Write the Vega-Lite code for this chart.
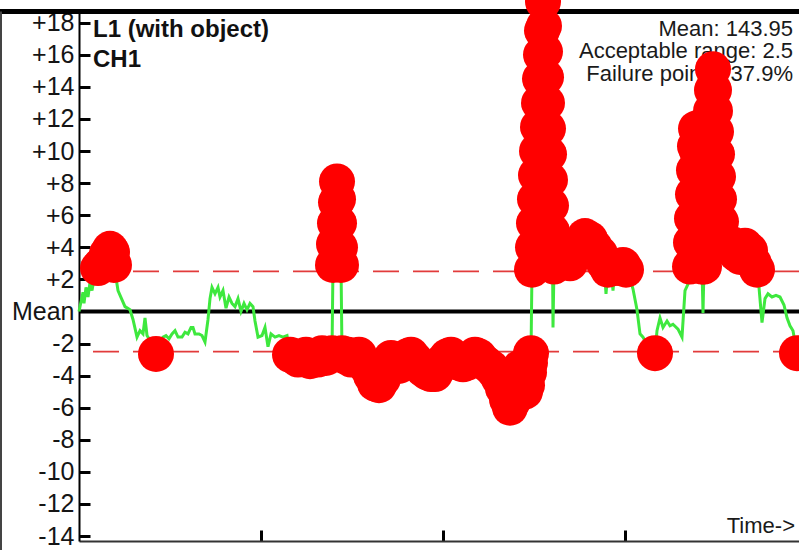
{
  "$schema": "https://vega.github.io/schema/vega-lite/v6.json",
  "width": 720,
  "height": 531,
  "autosize": {"type": "none"},
  "padding": {"left": 79, "top": 10, "right": 0, "bottom": 9},
  "background": "white",
  "config": {"view": {"stroke": null}, "font": "Liberation Sans"},
  "datasets": {
    "series": [
      {"t":0,"v":0.0},{"t":2,"v":0.6},{"t":4,"v":1.2},{"t":5,"v":0.5},{"t":7,"v":1.5},{"t":9,"v":0.9},{"t":11,"v":1.8},{"t":13,"v":1.3},{"t":15,"v":2.0},{"t":17,"v":2.3},
      {"t":19,"v":2.7},{"t":22,"v":2.9},{"t":25,"v":3.1},{"t":28,"v":3.6},{"t":31,"v":3.9},{"t":33,"v":3.7},{"t":35,"v":2.9},{"t":39,"v":1.3},{"t":46,"v":0.3},{"t":51,"v":0.1},
      {"t":54,"v":-0.5},{"t":58,"v":-1.6},{"t":61,"v":-1.2},{"t":64,"v":-1.4},{"t":66,"v":-0.4},{"t":68,"v":-1.5},{"t":71,"v":-1.8},{"t":74,"v":-2.2},{"t":77,"v":-2.65},{"t":81,"v":-1.9},
      {"t":84,"v":-1.6},{"t":87,"v":-1.5},{"t":90,"v":-1.7},{"t":93,"v":-1.4},{"t":96,"v":-1.2},{"t":99,"v":-1.6},{"t":103,"v":-1.6},{"t":106,"v":-1.3},{"t":109,"v":-1.4},{"t":112,"v":-1.0},
      {"t":114,"v":-1.0},{"t":116,"v":-1.4},{"t":120,"v":-1.4},{"t":123,"v":-1.5},{"t":126,"v":-1.9},{"t":129,"v":-0.5},{"t":131,"v":0.8},{"t":133,"v":1.5},{"t":136,"v":1.1},{"t":139,"v":1.5},
      {"t":141,"v":0.9},{"t":144,"v":1.3},{"t":147,"v":0.2},{"t":150,"v":0.9},{"t":153,"v":0.5},{"t":156,"v":0.3},{"t":159,"v":0.8},{"t":162,"v":0.0},{"t":165,"v":0.5},{"t":168,"v":0.1},
      {"t":171,"v":0.5},{"t":174,"v":0.3},{"t":176,"v":-0.6},{"t":179,"v":-1.6},{"t":183,"v":-1.5},{"t":186,"v":-1.0},{"t":189,"v":-2.2},{"t":192,"v":-1.4},{"t":196,"v":-1.6},{"t":200,"v":-1.5},
      {"t":204,"v":-1.6},{"t":208,"v":-1.5},{"t":211,"v":-2.7},{"t":215,"v":-2.8},{"t":219,"v":-3.0},{"t":223,"v":-2.9},{"t":227,"v":-2.7},{"t":231,"v":-3.1},{"t":235,"v":-2.8},{"t":239,"v":-3.0},
      {"t":243,"v":-2.6},{"t":247,"v":-2.9},{"t":251,"v":-2.7},{"t":253,"v":-2.6},{"t":254,"v":2.9},{"t":255,"v":4.2},{"t":256,"v":5.5},{"t":257,"v":6.8},{"t":258,"v":8.1},{"t":259,"v":7.0},
      {"t":260,"v":5.5},{"t":261,"v":4.0},{"t":262,"v":2.9},{"t":263,"v":-2.6},{"t":266,"v":-2.8},{"t":269,"v":-2.7},{"t":272,"v":-3.0},{"t":277,"v":-2.2},{"t":280,"v":-2.7},{"t":284,"v":-3.2},
      {"t":288,"v":-3.5},{"t":292,"v":-4.0},{"t":296,"v":-4.5},{"t":300,"v":-4.6},{"t":304,"v":-4.2},{"t":308,"v":-3.4},{"t":312,"v":-2.9},{"t":316,"v":-3.1},{"t":320,"v":-3.4},{"t":324,"v":-3.2},
      {"t":328,"v":-2.8},{"t":332,"v":-2.7},{"t":336,"v":-3.0},{"t":340,"v":-3.3},{"t":344,"v":-3.6},{"t":348,"v":-3.8},{"t":352,"v":-3.9},{"t":356,"v":-3.9},{"t":360,"v":-3.5},{"t":364,"v":-3.1},
      {"t":368,"v":-2.8},{"t":372,"v":-2.7},{"t":376,"v":-3.0},{"t":380,"v":-3.2},{"t":384,"v":-3.3},{"t":388,"v":-3.2},{"t":392,"v":-3.0},{"t":396,"v":-2.7},{"t":400,"v":-2.8},{"t":404,"v":-3.1},
      {"t":408,"v":-3.3},{"t":412,"v":-3.5},{"t":416,"v":-3.8},{"t":420,"v":-4.2},{"t":424,"v":-4.8},{"t":428,"v":-5.5},{"t":431,"v":-6.0},{"t":434,"v":-5.6},{"t":437,"v":-4.5},{"t":441,"v":-3.5},
      {"t":444,"v":-4.3},{"t":446,"v":-5.0},{"t":448,"v":-4.6},{"t":450,"v":-3.8},{"t":451,"v":-3.2},{"t":452,"v":-2.6},
      {"t":453,"v":2.6},{"t":454,"v":4.0},{"t":455,"v":5.5},{"t":456,"v":7.0},{"t":457,"v":8.5},{"t":458,"v":10.0},{"t":459,"v":11.5},{"t":460,"v":13.0},{"t":461,"v":14.5},{"t":462,"v":16.0},
      {"t":463,"v":17.5},{"t":464,"v":19.3},{"t":465,"v":17.8},{"t":466,"v":16.2},{"t":467,"v":14.6},{"t":468,"v":13.0},{"t":469,"v":11.4},{"t":470,"v":9.8},{"t":471,"v":8.2},{"t":472,"v":6.6},
      {"t":473,"v":5.0},{"t":473.5,"v":3.4},{"t":474,"v":-1.0},{"t":475,"v":2.8},{"t":477,"v":3.4},{"t":481,"v":4.0},{"t":486,"v":3.5},{"t":491,"v":3.0},{"t":496,"v":3.5},
      {"t":501,"v":4.2},{"t":506,"v":4.7},{"t":511,"v":4.5},{"t":516,"v":4.0},{"t":521,"v":3.6},{"t":525,"v":3.0},{"t":527,"v":1.1},{"t":529,"v":2.6},{"t":532,"v":2.7},{"t":534,"v":1.3},
      {"t":536,"v":2.8},{"t":540,"v":2.7},{"t":544,"v":2.9},{"t":547,"v":2.6},{"t":550,"v":2.3},{"t":554,"v":1.4},{"t":558,"v":0.1},{"t":561,"v":-1.4},{"t":564,"v":-1.6},{"t":569,"v":-2.2},
      {"t":576,"v":-2.6},{"t":578,"v":-1.2},{"t":581,"v":-0.4},{"t":584,"v":-1.0},{"t":588,"v":-0.6},{"t":591,"v":-0.9},{"t":594,"v":-0.8},{"t":599,"v":-1.1},{"t":603,"v":-1.6},{"t":606,"v":1.3},
      {"t":609,"v":1.7},{"t":611,"v":2.8},{"t":612,"v":4.3},{"t":613,"v":5.8},{"t":614,"v":7.3},{"t":615,"v":8.8},{"t":616,"v":10.3},{"t":617,"v":11.4},{"t":618,"v":10.0},{"t":619,"v":8.5},
      {"t":620,"v":7.0},{"t":621,"v":5.5},{"t":622,"v":4.0},{"t":623,"v":2.8},{"t":624,"v":-0.1},{"t":625,"v":2.8},{"t":626,"v":4.3},{"t":627,"v":5.8},{"t":628,"v":7.3},{"t":629,"v":8.8},
      {"t":630,"v":10.3},{"t":631,"v":11.4},{"t":632,"v":12.5},{"t":633,"v":13.8},{"t":634,"v":15.1},{"t":635,"v":13.8},{"t":636,"v":12.5},{"t":637,"v":11.2},{"t":638,"v":9.8},{"t":639,"v":8.4},
      {"t":640,"v":7.0},{"t":642,"v":5.6},{"t":645,"v":4.5},{"t":649,"v":4.0},{"t":653,"v":4.2},{"t":657,"v":3.6},{"t":661,"v":3.4},{"t":666,"v":4.1},{"t":671,"v":3.8},{"t":675,"v":3.0},
      {"t":678,"v":2.6},{"t":680,"v":1.5},{"t":683,"v":-0.7},{"t":686,"v":0.8},{"t":689,"v":1.1},{"t":693,"v":0.9},{"t":697,"v":1.0},{"t":701,"v":0.9},{"t":705,"v":0.4},{"t":708,"v":-0.4},
      {"t":711,"v":-0.9},{"t":714,"v":-1.2},{"t":718,"v":-2.6}
    ],
    "limits": [{"v": 2.5}, {"v": -2.5}],
    "titles": [
      {"t": 14, "v": 17.08, "label": "L1 (with object)"},
      {"t": 14, "v": 15.24, "label": "CH1"}
    ],
    "info": [
      {"t": 714, "v": 17.17, "label": "Mean: 143.95"},
      {"t": 714, "v": 15.77, "label": "Acceptable range: 2.5"},
      {"t": 714, "v": 14.36, "label": "Failure points: 37.9%"},
      {"t": 716, "v": -13.82, "label": "Time->"}
    ]
  },
  "layer": [
    {
      "data": {"values": [{}]},
      "mark": {"type": "rule", "color": "#000000", "strokeWidth": 5, "clip": false},
      "encoding": {
        "x": {"datum": -79, "type": "quantitative", "scale": {"domain": [0, 720], "nice": false, "zero": false},
              "axis": {"title": null, "values": [182, 364, 546], "labels": false, "tickSize": -11, "tickWidth": 3, "tickColor": "#000000", "domainColor": "#333333", "domainWidth": 2, "grid": false}},
        "x2": {"datum": 720},
        "y": {"datum": 18.7, "type": "quantitative", "scale": {"domain": [-14.31, 18.79], "nice": false, "zero": false},
              "axis": {"title": null, "values": [-14, -12, -10, -8, -6, -4, -2, 0, 2, 4, 6, 8, 10, 12, 14, 16, 18], "tickCount": 17,
                       "labelExpr": "datum.value == 0 ? 'Mean' : (datum.value > 0 ? '+' + datum.value : '' + datum.value)",
                       "labelOverlap": false, "labelBound": false, "labelFlush": false,
                       "labelFontSize": 25, "labelFont": "Liberation Sans", "labelColor": "#151515", "labelPadding": 16,
                       "tickSize": -11, "tickWidth": 3, "tickColor": "#000000", "domainColor": "#000000", "domainWidth": 2, "grid": false}}
      }
    },
    {
      "data": {"values": [{}]},
      "mark": {"type": "rule", "color": "#444444", "strokeWidth": 2, "clip": false},
      "encoding": {
        "x": {"datum": -78, "type": "quantitative", "title": null, "scale": {"domain": [0, 720], "nice": false, "zero": false}},
        "y": {"datum": 18.7, "type": "quantitative", "title": null, "scale": {"domain": [-14.31, 18.79], "nice": false, "zero": false}},
        "y2": {"datum": -14.9}
      }
    },
    {
      "data": {"name": "limits"},
      "mark": {"type": "rule", "color": "#e23b3b", "strokeWidth": 1.8, "strokeDash": [26, 14]},
      "encoding": {
        "y": {"field": "v", "type": "quantitative", "title": null, "scale": {"domain": [-14.31, 18.79], "nice": false, "zero": false}}
      }
    },
    {
      "data": {"values": [{}]},
      "mark": {"type": "rule", "color": "#000000", "strokeWidth": 4},
      "encoding": {
        "y": {"datum": 0, "type": "quantitative", "title": null, "scale": {"domain": [-14.31, 18.79], "nice": false, "zero": false}}
      }
    },
    {
      "data": {"name": "series"},
      "mark": {"type": "line", "color": "#3ee83e", "strokeWidth": 3, "interpolate": "linear"},
      "encoding": {
        "x": {"field": "t", "type": "quantitative", "title": null, "scale": {"domain": [0, 720], "nice": false, "zero": false}},
        "y": {"field": "v", "type": "quantitative", "title": null, "scale": {"domain": [-14.31, 18.79], "nice": false, "zero": false}}
      }
    },
    {
      "data": {"name": "titles"},
      "mark": {"type": "text", "align": "left", "baseline": "alphabetic", "fontSize": 24, "fontWeight": "bold", "font": "Liberation Sans", "color": "#111111"},
      "encoding": {
        "x": {"field": "t", "type": "quantitative", "title": null, "scale": {"domain": [0, 720], "nice": false, "zero": false}},
        "y": {"field": "v", "type": "quantitative", "title": null, "scale": {"domain": [-14.31, 18.79], "nice": false, "zero": false}},
        "text": {"field": "label"}
      }
    },
    {
      "data": {"name": "info"},
      "mark": {"type": "text", "align": "right", "baseline": "alphabetic", "fontSize": 22, "font": "Liberation Sans", "color": "#1a1a1a"},
      "encoding": {
        "x": {"field": "t", "type": "quantitative", "title": null, "scale": {"domain": [0, 720], "nice": false, "zero": false}},
        "y": {"field": "v", "type": "quantitative", "title": null, "scale": {"domain": [-14.31, 18.79], "nice": false, "zero": false}},
        "text": {"field": "label"}
      }
    },
    {
      "data": {"name": "series"},
      "transform": [{"filter": "abs(datum.v) > 2.5"}],
      "mark": {"type": "circle", "color": "#ff0000", "opacity": 1, "size": 1296},
      "encoding": {
        "x": {"field": "t", "type": "quantitative", "title": null, "scale": {"domain": [0, 720], "nice": false, "zero": false}},
        "y": {"field": "v", "type": "quantitative", "title": null, "scale": {"domain": [-14.31, 18.79], "nice": false, "zero": false}}
      }
    }
  ]
}
